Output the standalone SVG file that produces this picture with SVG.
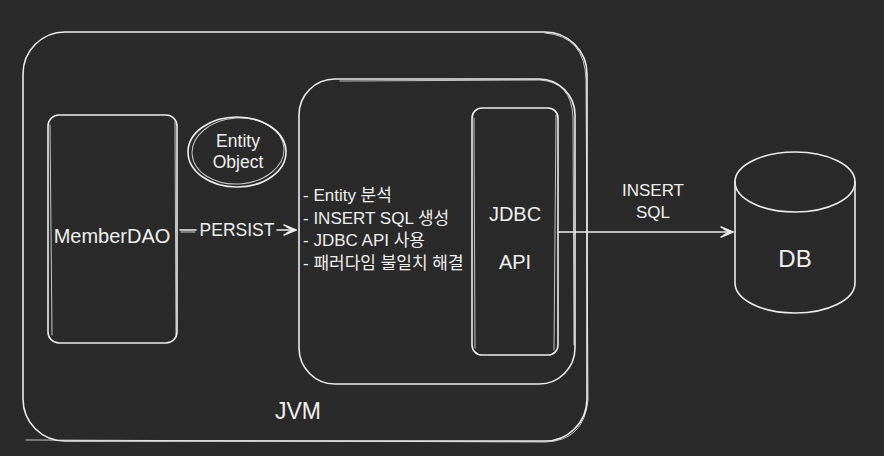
<svg xmlns="http://www.w3.org/2000/svg" width="884" height="456" viewBox="0 0 884 456">
<defs>
<style>
.s{fill:none;stroke:#ececec;stroke-width:1.6;stroke-linecap:round;stroke-linejoin:round}
.s2{fill:none;stroke:#ececec;stroke-width:1;stroke-linecap:round;opacity:0.8}
.t{fill:#f0f0f0;font-family:"Liberation Sans","Noto Sans CJK KR",sans-serif;text-anchor:middle}
.l{fill:#f0f0f0;font-family:"Liberation Sans","Noto Sans CJK KR",sans-serif;font-size:17px}
</style>
<marker id="ah" viewBox="0 0 14 12" refX="13" refY="6" markerWidth="14" markerHeight="12" markerUnits="userSpaceOnUse" orient="auto">
<path d="M1,1 L13,6 L1,11 M4,3 L10,6 L4,9" fill="none" stroke="#ececec" stroke-width="1.5" stroke-linecap="round" stroke-linejoin="round"/>
</marker>
</defs>
<rect width="884" height="456" fill="#2a2a2a"/>

<g id="jvm">
<rect class="s" x="23" y="32" width="564" height="409" rx="42"/>
<path class="s2" d="M26,440 L545,442 Q584,441 588,400 L586,80 Q585,36 545,33"/>
<text class="t" x="298" y="419" font-size="23">JVM</text>
</g>

<g id="entity-manager">
<rect class="s" x="299" y="79" width="276" height="305" rx="36"/>
<path class="s2" d="M340,81 L540,80 Q572,82 573,118 L574,345"/>
<text class="l" x="303" y="201">- Entity 분석</text>
<text class="l" x="303" y="224">- INSERT SQL 생성</text>
<text class="l" x="303" y="246">- JDBC API 사용</text>
<text class="l" x="303" y="269">- 패러다임 불일치 해결</text>
</g>

<g id="jdbc-api">
<rect class="s" x="472" y="108" width="86" height="247" rx="10"/>
<path class="s2" d="M474,118 L475,348 M556,115 L554,350"/>
<text class="t" x="515" y="221" font-size="20">JDBC</text>
<text class="t" x="515" y="269" font-size="20">API</text>
</g>

<g id="member-dao">
<rect class="s" x="48" y="115" width="129" height="228" rx="11"/>
<path class="s2" d="M50,125 L52,335 M175,122 L176,335"/>
<text class="t" x="112" y="243" font-size="20">MemberDAO</text>
</g>

<g id="entity-object">
<ellipse class="s" cx="237" cy="152" rx="49" ry="35"/>
<ellipse class="s2" cx="238" cy="151" rx="46" ry="33" transform="rotate(-4 238 151)"/>
<text class="t" x="238" y="147" font-size="17.5">Entity</text>
<text class="t" x="238" y="168" font-size="17.5">Object</text>
</g>

<g id="db">
<ellipse class="s" cx="795" cy="182" rx="60" ry="30"/>
<path class="s" d="M735,182 L735,283 A60,30 0 0 0 855,283 L855,182"/>
<text class="t" x="795" y="267" font-size="24">DB</text>
</g>

<g id="connectors">
<path class="s" d="M180,230 L196,230"/>
<path class="s2" d="M181,232 L195,232"/>
<path class="s" d="M277,230 L296,230" marker-end="url(#ah)"/>
<text class="t" x="237" y="236" font-size="17.5">PERSIST</text>
<path class="s" d="M558,232 L733,232" marker-end="url(#ah)"/>
<text class="t" x="653" y="196" font-size="17">INSERT</text>
<text class="t" x="653" y="218" font-size="17">SQL</text>
</g>
</svg>
